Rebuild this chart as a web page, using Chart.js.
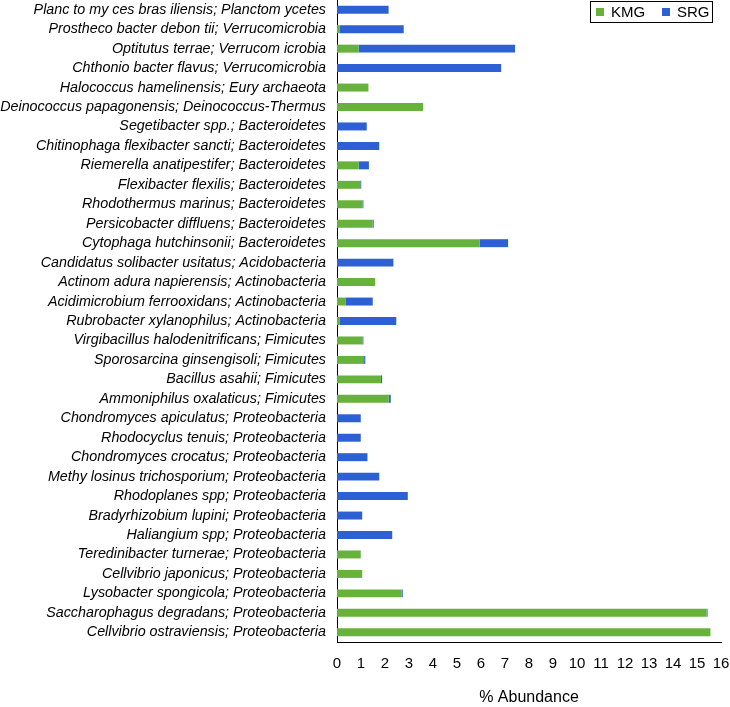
<!DOCTYPE html>
<html>
<head>
<meta charset="utf-8">
<script src="https://cdn.jsdelivr.net/npm/chart.js@4/dist/chart.umd.min.js"></script>
<style>
  html, body { margin: 0; padding: 0; background: #fff; }
  #wrap { width: 730px; height: 707px; position: relative; }
</style>
</head>
<body>
<div id="wrap"><canvas id="chart"></canvas></div>
<script>
// organisms, top to bottom as in the figure
const organisms = [
  'Planc to my ces bras iliensis; Planctom ycetes',
  'Prostheco bacter debon tii; Verrucomicrobia',
  'Optitutus terrae; Verrucom icrobia',
  'Chthonio bacter flavus; Verrucomicrobia',
  'Halococcus hamelinensis; Eury archaeota',
  'Deinococcus papagonensis; Deinococcus-Thermus',
  'Segetibacter spp.; Bacteroidetes',
  'Chitinophaga flexibacter sancti; Bacteroidetes',
  'Riemerella anatipestifer; Bacteroidetes',
  'Flexibacter flexilis; Bacteroidetes',
  'Rhodothermus marinus; Bacteroidetes',
  'Persicobacter diffluens; Bacteroidetes',
  'Cytophaga hutchinsonii; Bacteroidetes',
  'Candidatus solibacter usitatus; Acidobacteria',
  'Actinom adura napierensis; Actinobacteria',
  'Acidimicrobium ferrooxidans; Actinobacteria',
  'Rubrobacter xylanophilus; Actinobacteria',
  'Virgibacillus halodenitrificans; Fimicutes',
  'Sporosarcina ginsengisoli; Fimicutes',
  'Bacillus asahii; Fimicutes',
  'Ammoniphilus oxalaticus; Fimicutes',
  'Chondromyces apiculatus; Proteobacteria',
  'Rhodocyclus tenuis; Proteobacteria',
  'Chondromyces crocatus; Proteobacteria',
  'Methy losinus trichosporium; Proteobacteria',
  'Rhodoplanes spp; Proteobacteria',
  'Bradyrhizobium lupini; Proteobacteria',
  'Haliangium spp; Proteobacteria',
  'Teredinibacter turnerae; Proteobacteria',
  'Cellvibrio japonicus; Proteobacteria',
  'Lysobacter spongicola; Proteobacteria',
  'Saccharophagus degradans; Proteobacteria',
  'Cellvibrio ostraviensis; Proteobacteria'
];

// % abundance
const kmg = [0, 0.1, 0.9, 0, 1.31, 3.59, 0, 0, 0.9, 0.97, 1.06, 1.48, 5.94, 0, 1.59, 0.35, 0.1,
  1.06, 1.13, 1.83, 2.15, 0, 0, 0, 0, 0, 0, 0, 0.99, 1.05, 2.7, 15.4, 15.56];
const srg = [2.15, 2.68, 6.52, 6.84, 0, 0, 1.24, 1.76, 0.43, 0.04, 0.04, 0.05, 1.19, 2.35, 0, 1.14, 2.37,
  0.04, 0.05, 0.05, 0.09, 0.99, 0.99, 1.27, 1.76, 2.95, 1.05, 2.3, 0, 0, 0.04, 0.04, 0];

const xTicks = [0, 1, 2, 3, 4, 5, 6, 7, 8, 9, 10, 11, 12, 13, 14, 15, 16];

const GREEN = '#67b23a';
const BLUE = '#2c60d4';
const FONT = "'Liberation Sans', Arial, Helvetica, sans-serif";

// boxed legend in the top right corner
const boxLegend = {
  id: 'boxLegend',
  afterDraw(chart) {
    const c = chart.ctx;
    const x = 590, y = 1, w = 122, h = 21;
    c.save();
    c.fillStyle = '#fff';
    c.fillRect(x, y, w, h);
    c.strokeStyle = '#000';
    c.lineWidth = 1;
    c.strokeRect(x + 0.5, y + 0.5, w, h);
    c.font = '15px ' + FONT;
    c.textBaseline = 'middle';
    const items = [[chart.data.datasets[0], 596], [chart.data.datasets[1], 662]];
    items.forEach(([ds, ix]) => {
      c.fillStyle = ds.backgroundColor;
      c.fillRect(ix, y + 7, 8, 8);
      c.fillStyle = '#000';
      c.fillText(ds.label, ix + 15, y + h / 2 + 1);
    });
    c.restore();
  }
};

new Chart(document.getElementById('chart'), {
  type: 'bar',
  data: {
    labels: organisms,
    datasets: [
      { label: 'KMG', data: kmg, backgroundColor: GREEN },
      { label: 'SRG', data: srg, backgroundColor: BLUE }
    ]
  },
  options: {
    indexAxis: 'y',
    responsive: true,
    maintainAspectRatio: false,
    animation: false,
    layout: { padding: { left: 0, right: 9, top: 0, bottom: 0 } },
    datasets: { bar: { categoryPercentage: 1, barPercentage: 0.41 } },
    plugins: {
      legend: { display: false },
      tooltip: { enabled: false }
    },
    scales: {
      x: {
        stacked: true,
        min: 0,
        max: 16,
        afterBuildTicks: (s) => { s.ticks = xTicks.map(v => ({ value: v })); },
        grid: { display: false, drawTicks: false },
        border: { display: true, color: '#000', width: 1 },
        ticks: { color: '#000', font: { family: FONT, size: 15 }, padding: 13, maxRotation: 0, autoSkip: false },
        title: { display: true, text: '% Abundance', color: '#000', font: { family: FONT, size: 16 }, padding: { top: 0, bottom: 0 } },
        afterFit: (s) => { s.height = 65; s.paddingLeft = 0; s.paddingRight = 0; }
      },
      y: {
        stacked: true,
        grid: { display: false, drawTicks: false },
        border: { display: true, color: '#000', width: 1 },
        ticks: { color: '#000', font: { family: FONT, size: 14.3, style: 'italic' }, padding: 11, autoSkip: false },
        afterFit: (s) => { s.width = 337; s.paddingTop = 0; s.paddingBottom = 0; }
      }
    }
  },
  plugins: [boxLegend]
});
</script>
</body>
</html>
